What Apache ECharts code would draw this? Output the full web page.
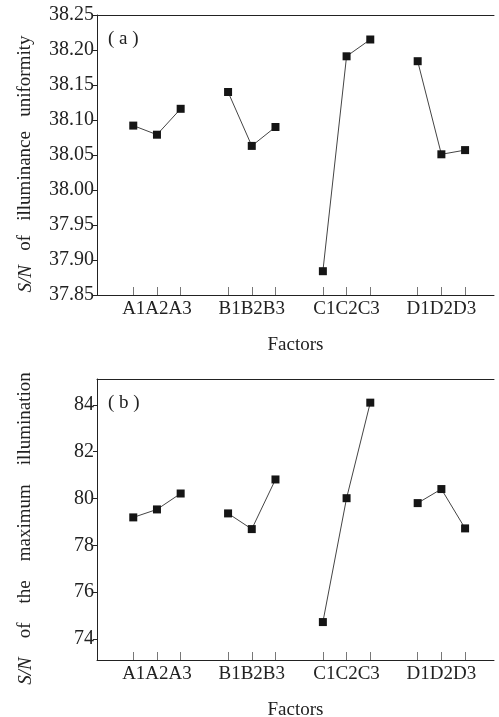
<!DOCTYPE html>
<html lang="en">
<head>
    <meta charset="UTF-8">
    <title>S/N main effects</title>
    <script src="https://cdn.jsdelivr.net/npm/echarts@6.0.0/dist/echarts.min.js"></script>
    <style>
        html, body { margin: 0; padding: 0; background: #fff; }
        #chart { width: 499px; height: 717px; }
    </style>
</head>
<body>
    <div id="chart"></div>

    <script>
        // levels of each factor, three per factor
        const levels = ['A1', 'A2', 'A3', 'B1', 'B2', 'B3', 'C1', 'C2', 'C3', 'D1', 'D2', 'D3'];
        const groupLabels = ['A1A2A3', 'B1B2B3', 'C1C2C3', 'D1D2D3'];

        // (a) S/N of illuminance uniformity
        const uniformitySN = [38.092, 38.079, 38.116, 38.140, 38.063, 38.090, 37.884, 38.191, 38.215, 38.184, 38.051, 38.057];
        // (b) S/N of the maximum illumination
        const maxIllumSN = [79.19, 79.53, 80.21, 79.36, 78.69, 80.81, 74.72, 80.01, 84.09, 79.80, 80.40, 78.72];

        const font = 'Liberation Serif';
        const ink = '#222';

        // one empty slot between factor groups
        function slotOf(i) { return i + Math.floor(i / 3); }
        const tickSlots = levels.map((l, i) => slotOf(i));
        const labelSlots = groupLabels.map((g, k) => slotOf(k * 3 + 1));

        function seriesData(values) {
            const out = [];
            values.forEach((v, i) => {
                out.push([slotOf(i), v]);
                if (i % 3 === 2 && i < values.length - 1) out.push([slotOf(i) + 1, null]);
            });
            return out;
        }

        function xAxisFor(gridIndex) {
            return {
                type: 'value',
                gridIndex: gridIndex,
                min: -1.53,
                max: 15.22,
                splitLine: { show: false },
                axisLine: { onZero: false, lineStyle: { color: ink, width: 1 } },
                axisTick: {
                    inside: true,
                    length: 8,
                    customValues: tickSlots,
                    lineStyle: { color: '#777' }
                },
                axisLabel: {
                    customValues: labelSlots,
                    margin: 5,
                    fontFamily: font,
                    fontSize: 19,
                    color: ink,
                    formatter: function (v) {
                        return groupLabels[labelSlots.indexOf(Math.round(v))] || '';
                    }
                },
                name: 'Factors',
                nameLocation: 'middle',
                nameGap: 41,
                nameTextStyle: { fontFamily: font, fontSize: 19, color: ink }
            };
        }

        function frameAxis(gridIndex) {
            return {
                type: 'value',
                gridIndex: gridIndex,
                position: 'top',
                min: 0, max: 1,
                axisLine: { show: true, onZero: false, lineStyle: { color: ink, width: 1 } },
                axisTick: { show: false },
                axisLabel: { show: false },
                splitLine: { show: false }
            };
        }

        const nameRich = {
            i: { fontFamily: font, fontSize: 19, fontStyle: 'italic', color: ink },
            n: { fontFamily: font, fontSize: 19, color: ink }
        };

        function yAxisFor(gridIndex, extra, nameText) {
            return Object.assign({
                type: 'value',
                gridIndex: gridIndex,
                splitLine: { show: false },
                axisLine: { show: true, onZero: false, lineStyle: { color: ink, width: 1 } },
                axisTick: { show: true, length: 4, lineStyle: { color: ink } },
                name: nameText,
                nameLocation: 'middle',
                nameGap: 62,
                nameTextStyle: { rich: nameRich, padding: [0, 18, 0, 0] }
            }, extra);
        }

        const chart = echarts.init(document.getElementById('chart'));

        const lineSeries = (values, idx) => ({
            type: 'line',
            xAxisIndex: idx * 2,
            yAxisIndex: idx,
            data: seriesData(values),
            connectNulls: false,
            symbol: 'rect',
            symbolSize: 8,
            itemStyle: { color: '#151515' },
            lineStyle: { color: '#444', width: 1 },
            animation: false
        });

        chart.setOption({
            animation: false,
            title: [
                { text: '( a )', left: 108, top: 30, padding: 0, textStyle: { fontFamily: font, fontSize: 19, fontWeight: 'normal', color: ink } },
                { text: '( b )', left: 108, top: 394, padding: 0, textStyle: { fontFamily: font, fontSize: 19, fontWeight: 'normal', color: ink } }
            ],
            grid: [
                { left: 97, right: 5, top: 15, height: 280, outerBoundsMode: 'none' },
                { left: 97, right: 5, top: 379, height: 281, outerBoundsMode: 'none' }
            ],
            xAxis: [xAxisFor(0), frameAxis(0), xAxisFor(1), frameAxis(1)],
            yAxis: [
                yAxisFor(0, {
                    min: 37.85, max: 38.25, interval: 0.05,
                    axisLabel: {
                        margin: 3, fontFamily: font, fontSize: 20, color: ink,
                        formatter: v => v.toFixed(2)
                    }
                }, '{i|S/N}{n|   of   illuminance   uniformity}'),
                yAxisFor(1, {
                    min: 73.1, max: 85.1, splitNumber: 6,
                    axisLabel: {
                        margin: 3, fontFamily: font, fontSize: 20, color: ink,
                        showMinLabel: false, showMaxLabel: false
                    }
                }, '{i|S/N}{n|    of    the    maximum    illumination}')
            ],
            series: [lineSeries(uniformitySN, 0), lineSeries(maxIllumSN, 1)]
        });
    </script>
</body>
</html>
